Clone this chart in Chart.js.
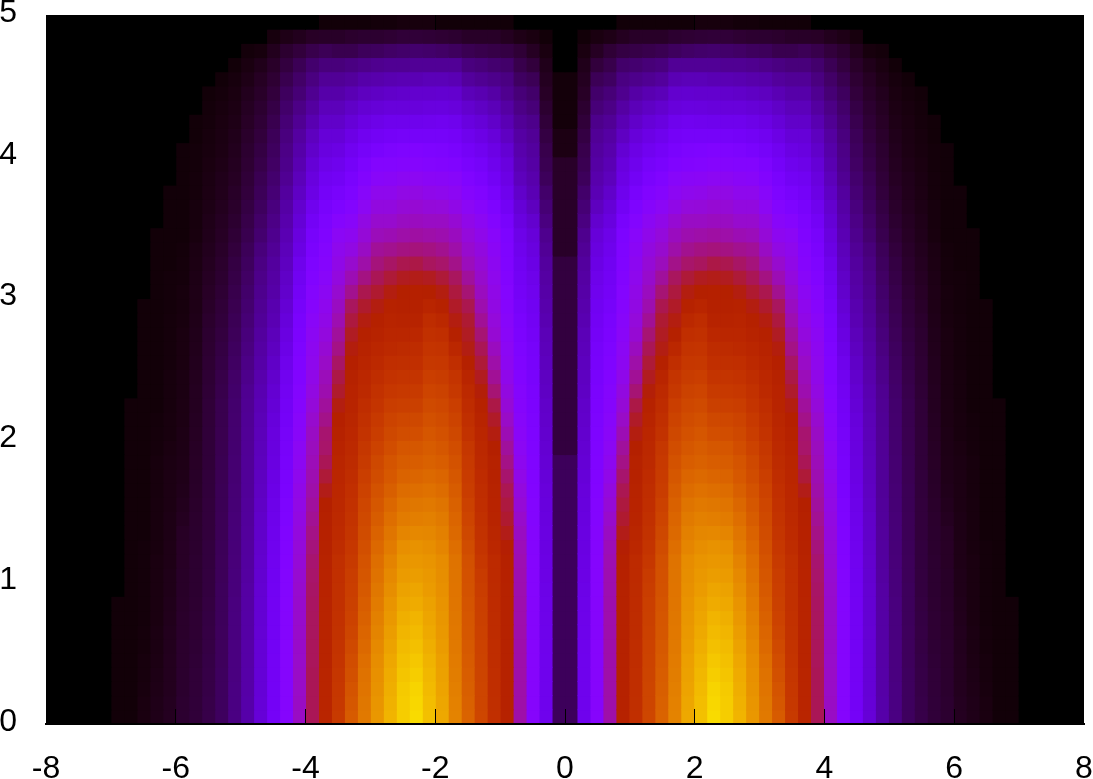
<!DOCTYPE html>
<html>
<head>
<meta charset="utf-8">
<style>
  html, body { margin: 0; padding: 0; background: #fff; }
  canvas { display: block; }
</style>
<script src="https://cdn.jsdelivr.net/npm/chart.js@4/dist/chart.umd.min.js"></script>
</head>
<body>
<canvas id="heat" width="1093" height="779"></canvas>
<script>
const X_TICKS = [-8, -6, -4, -2, 0, 2, 4, 6, 8];
const Y_TICKS = [0, 1, 2, 3, 4, 5];
const CELL_W = 0.2;
const CELL_H = 0.1;
const COLS_PER_SIDE = 40;
const ROWS = 50;

// Palette level (per mille). The picture is mirror symmetric around x=0,
// so one list per column going outwards from x=0, each from y=0 up to y=5.
const col00 = [58,58,58,58,58,58,58,58,58,58, 58,58,58,58,58,58,58,58,58,40, 40,40,40,40,40,40,40,40,40,40, 40,40,40,26,26,26,26,26,26,26, 12,12,6,6,6,6,0,0,0,0];
const col01 = [190,190,190,190,190,188,186,185,183,181, 178,176,174,172,170,167,165,161,157,154, 150,147,144,140,137,134,130,127,122,118, 114,110,106,100,94,84,76,68,58,52, 48,42,36,30,24,20,16,10,5,0];
const col02 = [275,275,275,275,275,275,274,274,273,272, 271,270,269,268,265,262,259,255,252,248, 245,240,235,231,226,222,217,210,204,198, 192,185,177,170,162,150,135,125,118,111, 106,100,92,78,68,55,38,22,10,0];
const col03 = [385,385,385,385,384,384,383,382,381,380, 379,377,372,362,353,342,332,318,306,296, 288,281,274,268,259,251,244,237,228,218, 210,205,198,190,182,170,158,146,132,125, 118,110,100,88,78,62,48,34,14,0];
const col04 = [510,510,510,510,510,510,510,510,510,510, 508,505,498,485,470,460,448,430,412,395, 375,358,342,330,315,303,296,288,280,272, 267,260,253,248,242,225,205,190,178,168, 155,138,125,110,95,85,68,42,20,5];
const col05 = [570,568,566,564,562,560,558,556,554,552, 550,548,535,528,522,518,515,512,510,500, 490,475,455,425,400,385,365,345,335,325, 320,310,303,293,283,265,245,225,205,190, 178,162,145,128,112,92,72,45,25,5];
const col06 = [650,648,646,643,640,637,634,630,626,622, 615,600,590,580,572,566,560,553,545,538, 530,522,510,495,480,465,445,425,400,380, 365,352,342,330,315,298,278,255,232,215, 195,178,160,140,122,98,78,48,25,5];
const col07 = [730,725,720,715,710,705,700,695,690,685, 682,680,668,655,645,635,622,615,608,598, 580,568,556,545,525,505,488,478,468,450, 425,395,368,350,335,318,295,272,250,228, 210,190,170,150,128,105,82,52,25,5];
const col08 = [800,796,792,788,784,781,778,775,772,770, 768,766,755,745,735,725,712,698,685,670, 655,640,625,605,590,565,535,505,490,475, 460,440,410,385,365,345,320,300,280,250, 230,210,190,165,150,125,100,60,30,5];
const col09 = [870,866,862,858,854,848,842,838,832,826, 822,818,805,795,782,768,752,735,715,700, 682,668,652,636,618,600,585,565,540,510, 490,465,432,405,380,360,335,310,290,260, 240,215,195,170,152,128,100,65,32,5];
const col10 = [910,905,900,895,888,880,872,865,858,848, 842,835,822,808,795,780,762,745,725,712, 695,680,662,645,625,605,590,575,555,525, 500,480,440,415,385,360,338,315,292,265, 245,215,192,168,150,128,100,68,34,8];
const col11 = [950,945,940,930,920,910,900,890,875,865, 850,840,830,810,790,775,755,735,715,700, 675,655,630,610,590,570,555,535,515,505, 502,485,455,420,390,365,345,325,300,270, 250,215,190,165,150,125,100,70,35,8];
const col12 = [930,928,925,918,910,902,892,882,870,860, 848,838,825,805,785,770,750,730,712,695, 672,652,628,608,588,568,552,532,515,505, 500,480,450,415,385,362,342,322,298,268, 248,215,190,165,148,125,98,68,35,8];
const col13 = [890,885,880,875,868,860,850,842,835,822, 812,800,785,772,755,740,720,702,690,672, 655,640,620,600,582,565,545,530,520,510, 490,465,435,405,375,350,330,310,290,262, 240,212,190,165,145,122,98,65,32,6];
const col14 = [840,836,830,826,820,812,802,795,785,775, 765,755,742,728,712,698,685,668,655,638, 620,608,590,578,560,545,530,515,505,490, 470,445,420,398,370,350,330,310,285,262, 230,205,182,160,140,118,95,60,30,6];
const col15 = [780,775,770,765,755,745,735,725,715,705, 695,688,678,668,660,650,638,625,612,598, 585,575,560,545,535,525,515,505,490,472, 450,415,385,360,340,325,300,280,260,240, 215,195,175,155,135,115,90,58,30,5];
const col16 = [710,700,690,680,670,658,648,638,630,625, 620,612,600,592,585,578,570,562,552,542, 535,528,522,518,510,502,492,478,460,440, 405,375,350,325,305,285,262,245,228,212, 195,178,160,142,125,105,85,50,28,5];
const col17 = [610,605,600,595,590,585,580,578,575,572, 570,568,555,548,542,538,535,530,525,518, 510,503,490,472,455,435,412,395,378,362, 348,332,320,310,295,270,245,225,205,190, 175,160,145,130,115,100,80,50,25,5];
const col18 = [525,525,525,525,522,522,522,520,520,518, 518,515,510,508,505,500,485,465,445,432, 428,410,395,380,370,358,345,332,320,308, 298,285,272,262,252,240,225,212,198,182, 170,160,145,130,115,100,80,55,25,5];
const col19 = [445,445,445,445,442,442,440,440,438,435, 432,428,420,412,402,394,385,378,372,366, 360,350,338,328,318,310,304,298,288,276, 268,256,244,232,222,208,192,178,168,158, 146,135,122,108,96,84,70,48,24,0];
const col20 = [360,360,358,358,356,355,354,352,352,350, 347,342,338,332,328,322,318,310,302,296, 286,280,272,264,256,250,244,236,228,218, 208,198,188,176,168,158,150,140,130,122, 115,108,98,88,76,66,54,38,18,0];
const col21 = [272,272,272,270,270,270,268,268,266,264, 262,258,254,250,246,240,234,228,224,220, 216,212,208,202,196,188,180,172,164,156, 148,142,136,130,124,118,112,106,98,92, 88,82,76,68,60,50,40,30,14,0];
const col22 = [210,208,208,206,206,205,204,204,202,200, 198,196,193,190,186,183,180,176,172,170, 168,164,158,154,148,142,136,130,124,120, 114,110,106,100,94,88,82,76,70,64, 60,56,50,44,38,32,26,18,8,0];
const col23 = [160,160,158,158,157,157,156,155,155,154, 152,150,148,146,144,141,138,136,133,131, 129,127,125,122,118,114,110,106,102,98, 94,90,86,80,72,66,60,56,52,46, 42,38,34,30,26,22,16,8,0,0];
const col24 = [115,115,114,114,113,113,112,112,111,110, 108,107,106,105,104,103,102,102,101,100, 100,99,98,96,92,88,84,80,76,72, 68,64,60,56,50,46,42,38,35,32, 30,27,24,21,18,14,10,6,0,0];
const col25 = [85,85,85,84,84,84,83,83,82,80, 80,79,78,78,77,76,75,74,73,72, 72,71,70,68,66,63,60,57,54,51, 48,45,42,38,34,30,27,25,22,20, 18,16,14,12,10,8,5,0,0,0];
const col26 = [60,60,60,60,59,59,59,58,58,58, 57,57,56,55,55,54,54,53,52,51, 51,50,50,48,46,44,42,40,37,35, 33,30,28,26,23,21,19,17,16,14, 12,11,10,9,7,5,0,0,0,0];
const col27 = [46,46,45,45,44,43,43,42,41,40, 40,39,39,38,38,38,37,37,36,36, 36,35,35,34,33,32,31,30,28,26, 24,22,20,18,16,15,13,12,11,10, 9,8,7,6,5,0,0,0,0,0];
const col28 = [36,36,35,35,34,33,32,32,31,30, 30,30,29,29,28,27,26,25,24,23, 22,21,20,20,19,18,17,16,15,14, 14,13,12,11,9,8,8,7,7,6, 6,5,5,0,0,0,0,0,0,0];
const col29 = [30,30,29,29,28,28,27,27,26,25, 25,24,24,23,20,18,16,15,14,13, 13,12,12,11,11,10,10,10,9,8, 8,7,7,6,5,5,5,5,5,5, 5,0,0,0,0,0,0,0,0,0];
const col30 = [20,20,19,19,19,18,18,17,16,15, 15,14,14,13,13,12,12,12,11,10, 9,9,8,8,8,7,7,7,7,6, 6,6,5,5,5,5,5,5,0,0, 0,0,0,0,0,0,0,0,0,0];
const col31 = [15,15,14,13,12,11,11,10,10,10, 10,10,9,9,9,9,8,8,8,7, 7,6,5,5,5,5,5,5,5,5, 5,5,5,5,5,0,0,0,0,0, 0,0,0,0,0,0,0,0,0,0];
const col32 = [10,10,9,8,8,7,7,6,6,6, 6,6,6,5,5,5,5,5,5,5, 5,5,5,5,5,5,5,5,5,5, 0,0,0,0,0,0,0,0,0,0, 0,0,0,0,0,0,0,0,0,0];
const col33 = [5,5,5,5,5,5,5,5,5,5, 5,5,5,5,5,5,5,5,5,5, 5,5,5,0,0,0,0,0,0,0, 0,0,0,0,0,0,0,0,0,0, 0,0,0,0,0,0,0,0,0,0];
const col34 = [5,5,5,5,5,5,5,5,5,0, 0,0,0,0,0,0,0,0,0,0, 0,0,0,0,0,0,0,0,0,0, 0,0,0,0,0,0,0,0,0,0, 0,0,0,0,0,0,0,0,0,0];

const heatCols = [col00, col01, col02, col03, col04, col05, col06, col07, col08, col09,
  col10, col11, col12, col13, col14, col15, col16, col17, col18, col19,
  col20, col21, col22, col23, col24, col25, col26, col27, col28, col29,
  col30, col31, col32, col33, col34];

// gnuplot default palette, rgbformulae 7,5,15
function paletteColor(level) {
  const g = level / 1000;
  const r = Math.round(Math.sqrt(g) * 255);
  const gr = Math.round(g * g * g * 255);
  const b = Math.round(Math.max(Math.sin(2 * Math.PI * g), 0) * 255);
  return `rgb(${r},${gr},${b})`;
}

function buildCells() {
  const cells = [];
  for (let j = 0; j < COLS_PER_SIDE; j++) {
    const col = heatCols[j] || [];
    for (let r = 0; r < ROWS; r++) {
      const level = col[r] || 0;
      const y = [r * CELL_H, (r + 1) * CELL_H];
      cells.push({ x: (j + 0.5) * CELL_W, y, level });
      cells.push({ x: -(j + 0.5) * CELL_W, y, level });
    }
  }
  return cells;
}

const FONT = { family: '"Liberation Sans", Arial, sans-serif', size: 32, lineHeight: 1 };

// the ticks at x=8 would poke out of the plot by a pixel
const tickColor = ctx => (ctx.tick && ctx.tick.value === 8 ? 'transparent' : '#000');

new Chart(document.getElementById('heat'), {
  type: 'bar',
  data: {
    datasets: [{
      data: buildCells(),
      backgroundColor: ctx => paletteColor(ctx.raw ? ctx.raw.level : 0),
      borderWidth: 0,
      inflateAmount: 0.5,
      barPercentage: 1,
      categoryPercentage: 1,
    }],
  },
  options: {
    responsive: false,
    animation: false,
    layout: { padding: { top: 15, right: 9, left: 0, bottom: 0 } },
    plugins: { legend: { display: false }, tooltip: { enabled: false } },
    scales: {
      x: {
        type: 'linear',
        position: 'bottom',
        offset: false,
        min: -8,
        max: 8,
        afterBuildTicks: s => { s.ticks = X_TICKS.map(value => ({ value })); },
        afterFit: s => { s.height = 55; s.paddingLeft = 0; s.paddingRight = 0; },
        ticks: {
          autoSkip: false, maxRotation: 0, color: '#000', font: FONT, padding: 44,
          callback: v => String(v),
        },
        grid: { offset: false, drawOnChartArea: false, tickLength: -15, tickColor, z: 1 },
        border: { color: '#000', width: 2, z: 2 },
      },
      xTop: {
        type: 'linear',
        position: 'top',
        axis: 'x',
        offset: false,
        min: -8,
        max: 8,
        afterBuildTicks: s => { s.ticks = X_TICKS.map(value => ({ value })); },
        afterFit: s => { s.height = 0; s.paddingLeft = 0; s.paddingRight = 0; },
        ticks: { display: false },
        grid: { offset: false, drawOnChartArea: false, tickLength: -15, tickColor, z: 1 },
        border: { display: false },
      },
      y: {
        min: 0,
        max: 5,
        afterBuildTicks: s => { s.ticks = Y_TICKS.map(value => ({ value })); },
        afterFit: s => { s.width = 46; s.paddingTop = 0; s.paddingBottom = 0; },
        ticks: {
          autoSkip: false, color: '#000', font: FONT, padding: 29, labelOffset: -2,
          callback: v => String(v),
        },
        grid: { drawOnChartArea: false, drawTicks: false },
        border: { display: false },
      },
    },
  },
});
</script>
</body>
</html>
